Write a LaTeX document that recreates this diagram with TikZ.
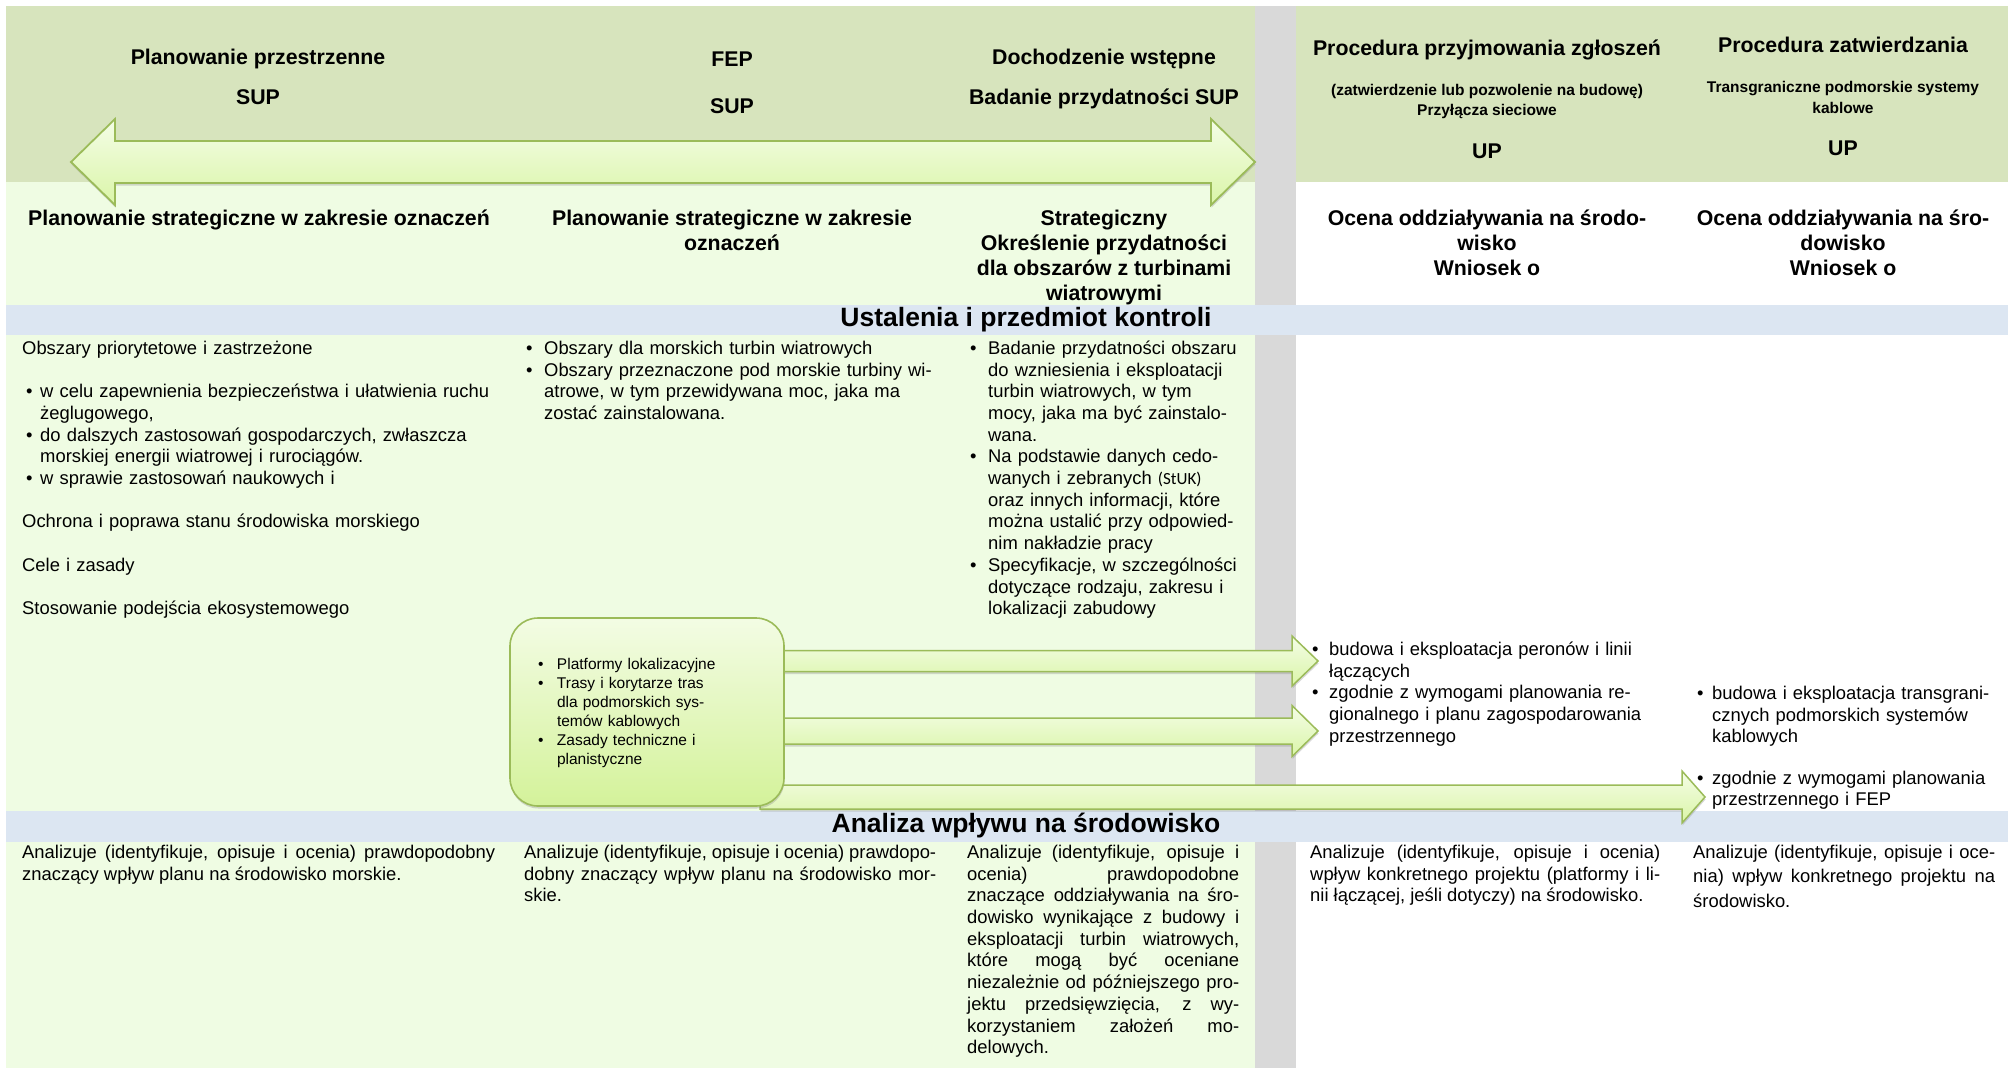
\documentclass[tikz,border=0pt]{standalone}
\usepackage{fontspec}
\setmainfont{Liberation Sans}
\newfontfamily\stukfont{Carlito}
\usetikzlibrary{calc,shadows}

\definecolor{bandgreen}{HTML}{D7E4BD}
\definecolor{areagreen}{HTML}{EFFCE3}
\definecolor{colgray}{HTML}{D9D9D9}
\definecolor{bandblue}{HTML}{DCE6F2}
\definecolor{arrgreen}{HTML}{9BBB59}
\definecolor{arrtop}{HTML}{F4FDE6}
\definecolor{arrbot}{HTML}{DAF5A8}
\definecolor{boxtop}{HTML}{F3FCE4}
\definecolor{boxbot}{HTML}{D4F29A}

\tolerance=9999
\hbadness=10000

\newcommand\bodyfont{\fontsize{18.4pt}{21.7pt}\selectfont}
\newcommand\headfont{\fontsize{21.3pt}{25pt}\selectfont\bfseries}
\newcommand\smallhead{\fontsize{15.5pt}{20.5pt}\selectfont\bfseries}
\newcommand\bandfont{\fontsize{26.5pt}{30pt}\selectfont\bfseries}
\newcommand\boxfont{\fontsize{15.5pt}{19pt}\selectfont}
\newlength\bulshift
\newcommand\bul[1][18pt]{\noindent\hangindent=#1\hangafter=1\hbox to #1{\hskip\bulshift\textbullet\hss}\ignorespaces}
\newcommand\gap{\par\vspace{21.7pt}\noindent}

% block arrow: from, to, shaft half width, head half width, head length
\newcommand\fatarrow[5]{%
  \path [smallarrow] let \p1=(#1), \p2=(#2) in
    (\x1,\y2+#3) -- (\x2-#5,\y2+#3) -- (\x2-#5,\y2+#4) -- (\p2)
    -- (\x2-#5,\y2-#4) -- (\x2-#5,\y2-#3) -- (\x1,\y2-#3) -- cycle;}
% double block arrow across the planning columns
\newcommand\dblarrow[2]{%
  \path [bigarrow] let \p1=(#1), \p2=(#2) in
    (\p1) -- (\x1+44pt,\y1+43pt) -- (\x1+44pt,\y1+21pt) -- (\x2-44pt,\y1+21pt)
    -- (\x2-44pt,\y1+43pt) -- (\p2) -- (\x2-44pt,\y1-43pt) -- (\x2-44pt,\y1-21pt)
    -- (\x1+44pt,\y1-21pt) -- (\x1+44pt,\y1-43pt) -- cycle;}

\begin{document}
\begin{tikzpicture}[x=1pt,y=-1pt,
    bigarrow/.style={draw=arrgreen,line width=1.8pt,top color=arrtop,bottom color=arrbot,
      drop shadow={shadow xshift=0.5pt,shadow yshift=-2.5pt,opacity=0.3}},
    smallarrow/.style={bigarrow,line width=1.5pt},
    platbox/.style={rectangle,rounded corners=28pt,draw=arrgreen,line width=1.6pt,
      top color=boxtop,bottom color=boxbot,minimum width=274pt,minimum height=188pt,
      text width=218pt,align=left,font=\boxfont,inner sep=0pt,
      execute at begin node=\noindent\strut,
      drop shadow={shadow xshift=0.5pt,shadow yshift=-2.5pt,opacity=0.3}},
    head/.style={font=\headfont,anchor=base,inner sep=0pt},
    minihead/.style={font=\smallhead,anchor=base,inner sep=0pt},
    subhead/.style={font=\headfont,align=center,anchor=north,inner sep=0pt},
    bandtitle/.style={font=\bandfont,anchor=center,inner sep=0pt},
    body/.style={font=\bodyfont,anchor=north west,inner sep=0pt,align=left,
      execute at begin node=\noindent\strut},
    justbody/.style={body,align=justify}]

  \useasboundingbox (0,0) rectangle (2015,1072);

  % backgrounds
  \fill [areagreen] (6,182) rectangle (1255,1068);
  \fill [bandgreen] (6,6) rectangle (1255,182);
  \fill [bandgreen] (1296,6) rectangle (2008,182);
  \fill [colgray] (1255,6) rectangle (1296,1068);
  \fill [bandblue] (6,305) rectangle (2008,335);
  \fill [bandblue] (6,811) rectangle (2008,842);

  % column heads
  \node [head] (h1) at (258,64) {Planowanie przestrzenne};
  \node [head] (h1b) at (258,104) {SUP};
  \node [head] (h2) at (732,66) {FEP};
  \node [head] (h2b) at (732,113) {SUP};
  \node [head] (h3) at (1104,64) {Dochodzenie wstępne};
  \node [head] (h3b) at (1104,104) {Badanie przydatności SUP};
  \node [head] (h4) at (1487,55) {Procedura przyjmowania zgłoszeń};
  \node [minihead] (h4b) at (1487,95) {(zatwierdzenie lub pozwolenie na budowę)};
  \node [minihead] (h4c) at (1487,115) {Przyłącza sieciowe};
  \node [head] (h4d) at (1487,158) {UP};
  \node [head] (h5) at (1843,52) {Procedura zatwierdzania};
  \node [minihead] (h5b) at (1843,92) {Transgraniczne podmorskie systemy};
  \node [minihead] (h5c) at (1843,113) {kablowe};
  \node [head] (h5d) at (1843,155) {UP};

  \coordinate (bl) at (71,162);
  \coordinate (br) at (1255,162);
  \dblarrow{bl}{br}

  \node [subhead] (s1) at (259,210) {Planowanie strategiczne w zakresie oznaczeń};
  \node [subhead] (s2) at (732,210) {Planowanie strategiczne w zakresie\\oznaczeń};
  \node [subhead] (s3) at (1104,210) {Strategiczny\\Określenie przydatności\\dla obszarów z turbinami\\wiatrowymi};
  \node [subhead] (s4) at (1487,210) {Ocena oddziaływania na środo-\\wisko\\Wniosek o};
  \node [subhead] (s5) at (1843,210) {Ocena oddziaływania na śro-\\dowisko\\Wniosek o};

  \node [bandtitle] (t1) at (1026,320) {Ustalenia i przedmiot kontroli};
  \node [bandtitle] (t2) at (1026,826) {Analiza wpływu na środowisko};

  % findings
  \node [body,text width=470pt] (c1) at (22,339) {\setlength\bulshift{4pt}Obszary priorytetowe i zastrzeżone\gap
    \bul w celu zapewnienia bezpieczeństwa i ułatwienia ruchu\newline żeglugowego,\par
    \bul do dalszych zastosowań gospodarczych, zwłaszcza\newline morskiej energii wiatrowej i rurociągów.\par
    \bul w sprawie zastosowań naukowych i\gap
    Ochrona i poprawa stanu środowiska morskiego\gap
    Cele i zasady\gap
    Stosowanie podejścia ekosystemowego\par};
  \node [body,text width=440pt] (c2) at (526,339) {\bul Obszary dla morskich turbin wiatrowych\par
    \bul Obszary przeznaczone pod morskie turbiny wi-\newline atrowe, w tym przewidywana moc, jaka ma\newline zostać zainstalowana.\par};
  \node [body,text width=300pt] (c3) at (970,339) {\bul Badanie przydatności obszaru\newline do wzniesienia i eksploatacji\newline turbin wiatrowych, w tym\newline mocy, jaka ma być zainstalo-\newline wana.\par
    \bul Na podstawie danych cedo-\newline wanych i zebranych {\stukfont\fontsize{17pt}{21.7pt}\selectfont(StUK)}\newline oraz innych informacji, które\newline można ustalić przy odpowied-\newline nim nakładzie pracy\par
    \bul Specyfikacje, w szczególności\newline dotyczące rodzaju, zakresu i\newline lokalizacji zabudowy\par};

  \node [body,text width=360pt] (r4) at (1312,640) {\bul[17pt] budowa i eksploatacja peronów i linii\newline łączących\par
    \bul[17pt] zgodnie z wymogami planowania re-\newline gionalnego i planu zagospodarowania\newline przestrzennego\par};
  \node [body,text width=310pt] (r5) at (1697,684) {\bul[15pt] budowa i eksploatacja transgrani-\newline cznych podmorskich systemów\newline kablowych\par\vspace{19.5pt}
    \bul[15pt] zgodnie z wymogami planowania\newline przestrzennego i FEP\par};

  % links from the spatial plan
  \coordinate (a1) at (760,661);
  \coordinate (e1) at (1318,661);
  \coordinate (a2) at (760,731);
  \coordinate (e2) at (1318,731);
  \coordinate (a3) at (760,797);
  \coordinate (e3) at (1705,797);
  \fatarrow{a1}{e1}{10.5pt}{25pt}{26pt}
  \fatarrow{a2}{e2}{13pt}{25.5pt}{26pt}
  \fatarrow{a3}{e3}{12pt}{26pt}{23pt}

  \node [platbox] (plat) at (647,712) {\bul[19pt] Platformy lokalizacyjne\par
    \bul[19pt] Trasy i korytarze tras\newline dla podmorskich sys-\newline temów kablowych\par
    \bul[19pt] Zasady techniczne i\newline planistyczne\par};

  % environmental assessment
  \node [justbody,text width=473pt] (b1) at (22,843) {Analizuje (identyfikuje, opisuje i ocenia) prawdopodobny\linebreak znaczący wpływ planu na środowisko morskie.};
  \node [justbody,text width=412pt] (b2) at (524,843) {Analizuje (identyfikuje, opisuje i ocenia) prawdopo-\linebreak dobny znaczący wpływ planu na środowisko mor-\linebreak skie.};
  \node [justbody,text width=272pt] (b3) at (967,843) {Analizuje (identyfikuje, opisuje i\linebreak ocenia) prawdopodobne\linebreak znaczące oddziaływania na śro-\linebreak dowisko wynikające z budowy i\linebreak eksploatacji turbin wiatrowych,\linebreak które mogą być oceniane\linebreak niezależnie od późniejszego pro-\linebreak jektu przedsięwzięcia, z wy-\linebreak korzystaniem założeń mo-\linebreak delowych.};
  \node [justbody,text width=350pt] (b4) at (1310,843) {Analizuje (identyfikuje, opisuje i ocenia)\linebreak wpływ konkretnego projektu (platformy i li-\linebreak nii łączącej, jeśli dotyczy) na środowisko.};
  \node [justbody,text width=302pt,font=\fontsize{18.4pt}{24.5pt}\selectfont] (b5) at (1693,841) {Analizuje (identyfikuje, opisuje i oce-\linebreak nia) wpływ konkretnego projektu na\linebreak środowisko.};
\end{tikzpicture}
\end{document}
